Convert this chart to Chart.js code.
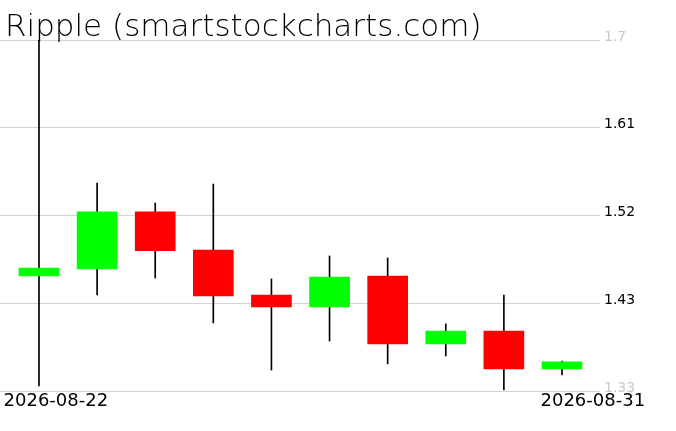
<!DOCTYPE html>
<html>
<head>
<meta charset="utf-8">
<script src="https://cdn.jsdelivr.net/npm/chart.js@4.4.1/dist/chart.umd.min.js"></script>
<style>
  body { margin: 0; background: #fff; }
</style>
</head>
<body>
<canvas id="grafico" width="676" height="431"></canvas>
<script>
// Ripple, valores (aprox.)
const datas = ["2026-08-22", "2026-08-23", "2026-08-24", "2026-08-25", "2026-08-26",
               "2026-08-27", "2026-08-28", "2026-08-29", "2026-08-30", "2026-08-31"];
const abertura   = [1.4539, 1.4612, 1.5207, 1.4810, 1.4341, 1.4216, 1.4539, 1.3830, 1.3966, 1.3570];
const maxima     = [1.7000, 1.5509, 1.5300, 1.5498, 1.4508, 1.4748, 1.4727, 1.4039, 1.4341, 1.3653];
const minima     = [1.3392, 1.4341, 1.4518, 1.4049, 1.3559, 1.3861, 1.3622, 1.3705, 1.3351, 1.3507];
const fechamento = [1.4623, 1.5207, 1.4803, 1.4331, 1.4216, 1.4529, 1.3830, 1.3966, 1.3570, 1.3643];
const rotulosY = ["1.33", "1.43", "1.52", "1.61", "1.7"];

const yMin = 1.334;
const yMax = 1.700;

const corpos = datas.map((d, i) => ({ x: i, y: [abertura[i], fechamento[i]] }));
const pavios = datas.map((d, i) => ({ x: i, y: [minima[i], maxima[i]] }));
const cores = datas.map((d, i) => fechamento[i] >= abertura[i] ? "#00ff00" : "#ff0000");

// Desloca o título um pouco para a direita
const deslocaTitulo = {
    id: "deslocaTitulo",
    afterLayout(chart) {
        if (chart.titleBlock) chart.titleBlock.left = 5;
    }
};

const ctx = document.getElementById("grafico").getContext("2d");

new Chart(ctx, {
    type: "bar",
    data: {
        datasets: [
            {
                label: "corpo",
                data: corpos,
                backgroundColor: cores,
                borderWidth: 0,
                barThickness: 40,
                order: 0
            },
            {
                label: "pavio",
                data: pavios,
                backgroundColor: "#000000",
                borderWidth: 0,
                barThickness: 1,
                order: 1
            }
        ]
    },
    plugins: [deslocaTitulo],
    options: {
        responsive: false,
        animation: false,
        grouped: false,
        layout: { padding: 0 },
        plugins: {
            legend: { display: false },
            tooltip: { enabled: false },
            title: {
                display: true,
                text: "Ripple (smartstockcharts.com)",
                align: "start",
                color: "#000",
                font: { family: "DejaVu Sans", size: 31, weight: 200, lineHeight: 1 },
                padding: { top: 12, bottom: -3 }
            }
        },
        scales: {
            x: {
                type: "linear",
                offset: false,
                min: -0.671,
                max: 9.654,
                grid: { display: false, drawTicks: false },
                border: { display: false },
                afterBuildTicks: (scale) => {
                    scale.ticks = [{ value: 0.29 }, { value: 9.53 }];
                },
                afterFit: (scale) => { scale.height = 40; },
                ticks: {
                    autoSkip: false,
                    maxRotation: 0,
                    padding: 0,
                    color: "#000",
                    font: { family: "DejaVu Sans", size: 18 },
                    callback: (v, i) => i === 0 ? datas[0] : datas[datas.length - 1]
                }
            },
            y: {
                position: "right",
                min: yMin,
                max: yMax,
                grid: { color: "#d3d3d3", drawTicks: false },
                border: { display: false },
                afterBuildTicks: (scale) => {
                    scale.ticks = rotulosY.map((r, i) => ({ value: yMin + i * (yMax - yMin) / (rotulosY.length - 1) }));
                },
                afterFit: (scale) => { scale.width = 76; },
                ticks: {
                    padding: 4,
                    labelOffset: -3,
                    font: { family: "DejaVu Sans", size: 14 },
                    color: (c) => (c.index === 0 || c.index === rotulosY.length - 1) ? "#c8c8c8" : "#000",
                    callback: (v, i) => rotulosY[i]
                }
            }
        }
    }
});
</script>
</body>
</html>
